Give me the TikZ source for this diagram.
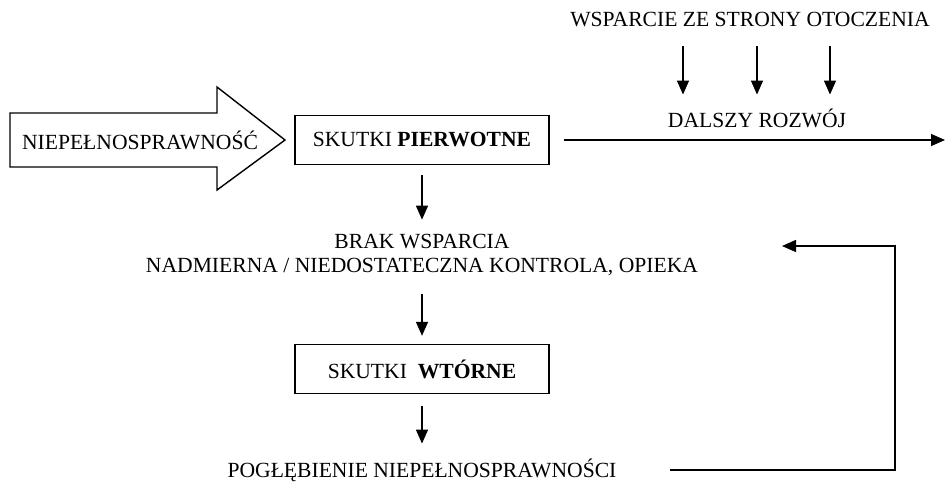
\documentclass[tikz,border=0pt]{standalone}
\usepackage{fontspec}
\setmainfont{Liberation Serif}
\usetikzlibrary{arrows.meta,positioning}

\begin{document}
\begin{tikzpicture}[x=1pt, y=-1pt, font=\fontsize{21.6}{26}\selectfont, line width=1.4pt,
  box/.style={draw, minimum width=254pt, minimum height=49pt, inner sep=0pt},
  flow/.style={-{Triangle[length=14pt,width=12pt]}}]
  \useasboundingbox (0,0) rectangle (948,483);
  % input arrow
  \draw (10,113) -- (217,113) -- (217,87) -- (285,140) -- (217,190) -- (217,167) -- (10,167) -- cycle;
  \node (niep) at (140,140) {NIEPEŁNOSPRAWNOŚĆ};
  % main column
  \node[box] (pierw) at (422,140) {SKUTKI \textbf{PIERWOTNE}};
  \node (brak) at (422,242) {BRAK WSPARCIA};
  \node (kontr) at (422,267) {NADMIERNA / NIEDOSTATECZNA KONTROLA, OPIEKA};
  \node[box] (wtor) at (422,369) {SKUTKI \ \textbf{WTÓRNE}};
  \node (pogl) at (422,470) {POGŁĘBIENIE NIEPEŁNOSPRAWNOŚCI};
  % development branch
  \node (wsp) at (750,20) {WSPARCIE ZE STRONY OTOCZENIA};
  \node (dal) at (757,118) {DALSZY ROZWÓJ};
  \coordinate (rozw) at (945,140);
  \coordinate (pow) at (895,246);
  \coordinate (powend) at (782,246);
  % connectors
  \draw[flow] ([yshift=-10pt]pierw.south) -- ([yshift=11pt]brak.north);
  \draw[flow] ([yshift=-14pt]kontr.south) -- ([yshift=8pt]wtor.north);
  \draw[flow] ([yshift=-12pt]wtor.south) -- ([yshift=11pt]pogl.north);
  \draw[flow] ([xshift=14pt]pierw.east) -- (rozw);
  \foreach \dx in {-67,7,80}
    \draw[flow] ([xshift=\dx pt, yshift=-15pt]wsp.south) -- ([xshift={\dx pt-7pt}, yshift=10pt]dal.north);
  \draw[flow] ([xshift=50pt]pogl.east) -| (pow) -- (powend);
\end{tikzpicture}
\end{document}
